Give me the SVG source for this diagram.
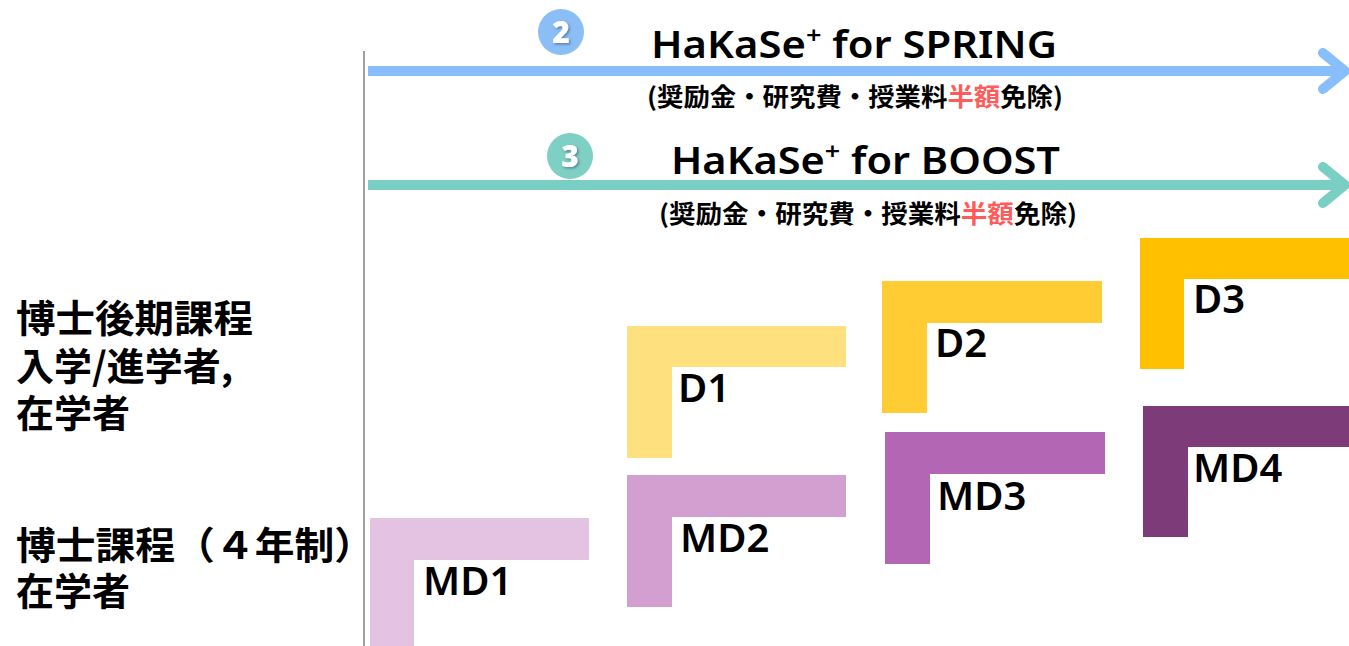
<svg xmlns="http://www.w3.org/2000/svg" width="1349" height="646" viewBox="0 0 1349 646">
<style>
.jp{font-family:"Noto Sans CJK JP","Noto Sans",sans-serif;font-weight:bold;fill:#000}
.lat{font-family:"Noto Sans","Liberation Sans",sans-serif;font-weight:600;fill:#000}
.red{fill:#FF5B5B}
.num{font-family:"Noto Sans","Liberation Sans",sans-serif;font-weight:900;fill:#fff;font-size:30px;text-anchor:middle}
</style>
<defs>
<filter id="sh" x="-50%" y="-50%" width="200%" height="200%"><feDropShadow dx="1.5" dy="1.5" stdDeviation="0.8" flood-color="#3a5a80" flood-opacity="0.6"/></filter>
</defs>
<rect width="1349" height="646" fill="#fff"/>
<g id="axis"><line x1="364" y1="51" x2="364" y2="646" stroke="#A0A0A0" stroke-width="2"/></g>
<g id="connectors" fill="none" stroke-linecap="round" stroke-linejoin="round">
<line x1="368" y1="71" x2="1346" y2="71" stroke="#88BEFB" stroke-width="10" stroke-linecap="butt"/>
<polyline points="1323,53 1345,71 1323,89" stroke="#88BEFB" stroke-width="10"/>
<line x1="368" y1="185" x2="1346" y2="185" stroke="#7ACFC5" stroke-width="10" stroke-linecap="butt"/>
<polyline points="1323,167 1345,185 1323,203" stroke="#7ACFC5" stroke-width="10"/>
</g>
<g id="spring">
<circle cx="561" cy="32" r="23" fill="#8BBEF5"/>
<text x="561" y="43" class="num" filter="url(#sh)">2</text>
<text x="651" y="58" class="lat" font-size="37" textLength="406" lengthAdjust="spacingAndGlyphs">HaKaSe<tspan font-size="24" dy="-14">+</tspan><tspan dy="14"> for SPRING</tspan></text>
<text x="647" y="106" class="jp" font-size="25" textLength="416" lengthAdjust="spacingAndGlyphs">(奨励金・研究費・授業料<tspan class="red">半額</tspan>免除)</text>
</g>
<g id="boost">
<circle cx="570" cy="156" r="23" fill="#7ECFC4"/>
<text x="570" y="167" class="num" filter="url(#sh)">3</text>
<text x="671" y="174" class="lat" font-size="37" textLength="389" lengthAdjust="spacingAndGlyphs">HaKaSe<tspan font-size="24" dy="-14">+</tspan><tspan dy="14"> for BOOST</tspan></text>
<text x="659" y="223" class="jp" font-size="25" textLength="418" lengthAdjust="spacingAndGlyphs">(奨励金・研究費・授業料<tspan class="red">半額</tspan>免除)</text>
</g>
<g id="label-doctor">
<text x="16" y="332" class="jp" font-size="38" textLength="237" lengthAdjust="spacingAndGlyphs">博士後期課程</text>
<text x="16" y="380" class="jp" font-size="38">入学/進学者,</text>
<text x="16" y="427" class="jp" font-size="38">在学者</text>
</g>
<g id="label-md">
<text x="16" y="559" class="jp" font-size="38" textLength="358" lengthAdjust="spacingAndGlyphs">博士課程（４年制）</text>
<text x="16" y="605" class="jp" font-size="38">在学者</text>
</g>
<g id="MD1"><path d="M370,518H589V560H414V646H370Z" fill="#E3C2E2"/><text x="423" y="595" class="lat" font-size="40">MD1</text></g>
<g id="D1"><path d="M627,326H846V367H672V458H627Z" fill="#FFE07F"/><text x="678" y="402" class="lat" font-size="40">D1</text></g>
<g id="MD2"><path d="M627,475H846V517H672V607H627Z" fill="#D29FD0"/><text x="680" y="552" class="lat" font-size="40">MD2</text></g>
<g id="D2"><path d="M882,281H1102V323H927V413H882Z" fill="#FFCD33"/><text x="935" y="357" class="lat" font-size="40">D2</text></g>
<g id="MD3"><path d="M885,432H1105V474H930V564H885Z" fill="#B366B3"/><text x="937" y="510" class="lat" font-size="40">MD3</text></g>
<g id="D3"><path d="M1140,238H1349V279H1184V369H1140Z" fill="#FFC000"/><text x="1193" y="313" class="lat" font-size="40">D3</text></g>
<g id="MD4"><path d="M1143,406H1349V447H1188V537H1143Z" fill="#7E3B7A"/><text x="1193" y="482" class="lat" font-size="40">MD4</text></g>
</svg>
